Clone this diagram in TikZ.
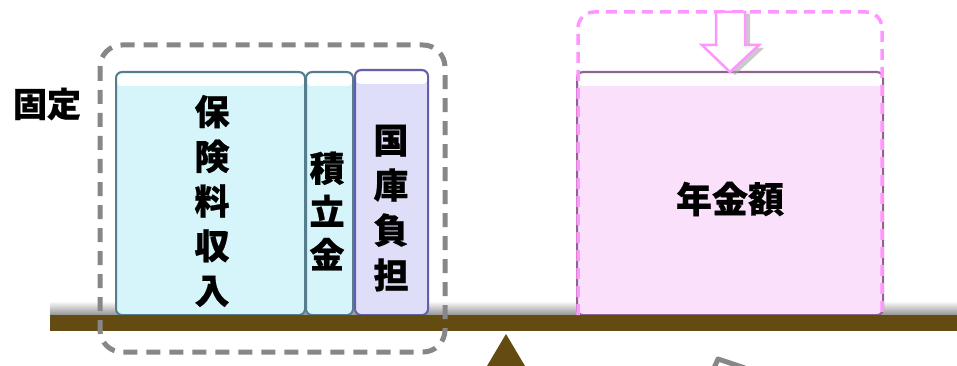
\documentclass[tikz,border=0pt]{standalone}
\usepackage{fontspec}
\newfontfamily\jp{Noto Sans CJK JP}[BoldFeatures={FakeBold=0.6}]
\definecolor{beamc}{RGB}{99,75,18}
\definecolor{cyanfill}{RGB}{214,245,250}
\definecolor{cyanedge}{RGB}{85,125,140}
\definecolor{lavfill}{RGB}{222,222,248}
\definecolor{lavedge}{RGB}{100,95,170}
\definecolor{pinkfill}{RGB}{251,224,251}
\definecolor{pinkedge}{RGB}{140,100,140}
\definecolor{pinkdash}{RGB}{255,150,255}
\definecolor{greydash}{RGB}{135,135,135}
\begin{document}
\begin{tikzpicture}[x=1pt,y=-1pt,
  boxbase/.style={rounded corners=6pt, line width=2pt, inner sep=0pt},
  gloss/.style={path picture={\fill[top color=white, bottom color=#1]
      ([yshift=-2pt]path picture bounding box.north west) rectangle ([yshift=-14pt]path picture bounding box.north east);}},
  cyanbox/.style={boxbase, draw=cyanedge, fill=cyanfill, gloss=cyanfill},
  lavbox/.style={boxbase, draw=lavedge, fill=lavfill, gloss=lavfill},
  pinkbox/.style={boxbase, draw=pinkedge, fill=pinkfill, gloss=pinkfill},
  vtext/.style={font=\jp\bfseries\fontsize{35}{#1}\selectfont, align=center, inner sep=0pt},
  htext/.style={font=\jp\bfseries\fontsize{#1}{#1}\selectfont, inner sep=0pt}
]
\useasboundingbox (0,0) rectangle (957,366);

% shadow above beam
\shade[top color=white, bottom color=black!45] (50,301) rectangle (957,316);

% boxes
\node[cyanbox, minimum width=189pt, minimum height=243pt] (hoken) at (210.5,193.5) {};
\node[cyanbox, minimum width=47pt, minimum height=243pt] (tsumi) at (329.5,193.5) {};
\node[lavbox, minimum width=73pt, minimum height=245pt] (kokko) at (391.5,192.5) {};
\node[pinkbox, minimum width=306pt, minimum height=243pt] (nenkin) at (730,193.5) {};

% beam and fulcrum
\fill[beamc] (50,315) rectangle (957,331);
\fill[beamc] (487,366) -- (506,334) -- (525,366) -- cycle;

% texts
\node[vtext=44.7] (t1) at (212,201) {保\\険\\料\\収\\入};
\node[vtext=43.3] (t2) at (327,211) {積\\立\\金};
\node[vtext=45] (t3) at (391,208) {国\\庫\\負\\担};
\node[htext=36] (t4) at (730,199) {年金額};
\node[htext=34] (fixed) at (47,104) {固定};

% grey dashed group
\draw[greydash, line width=5pt, dash pattern=on 14pt off 9pt, rounded corners=22pt]
  (100,45) rectangle (445,352);

% pink dashed frame
\draw[pinkdash, line width=3.5pt, dash pattern=on 11pt off 7pt, rounded corners=16pt]
  (578,315) -- (578,12) -- (882,12) -- (882,315);

% down arrow with shadow
\fill[black!35, opacity=0.6] (721,14) -- (750,14) -- (750,48) -- (764,48) -- (735,75) -- (707,48) -- (721,48) -- cycle;
\draw[pinkdash, line width=2.5pt, fill=white, line join=miter]
  (716,12) -- (745,12) -- (745,45) -- (759,45) -- (730,72) -- (702,45) -- (716,45) -- cycle;

% partial grey arrow at bottom
\draw[greydash, line width=5pt, line join=round] (714,368) -- (718,359) -- (745,368);
\end{tikzpicture}
\end{document}
